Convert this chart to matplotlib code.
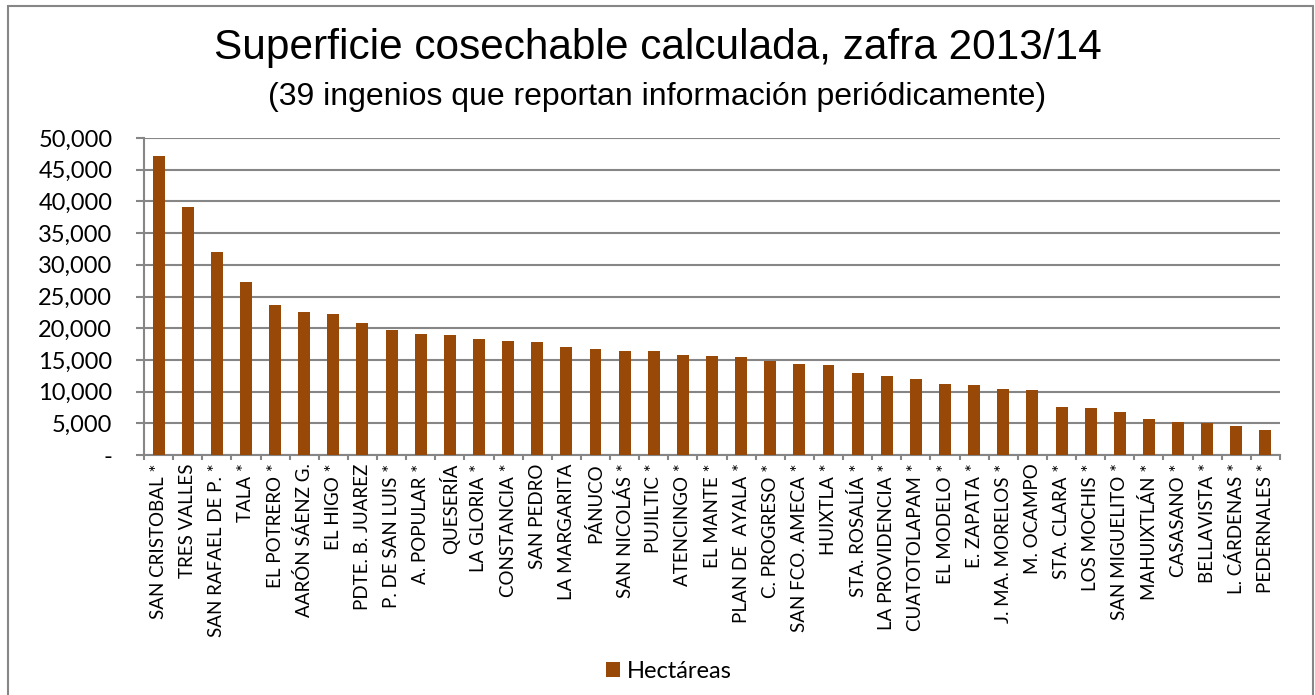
import matplotlib as mpl
import matplotlib.pyplot as plt
from matplotlib.patches import Rectangle
from matplotlib.ticker import FuncFormatter, FixedLocator

ingenios = ['SAN CRISTOBAL *', 'TRES VALLES', 'SAN RAFAEL DE P. *', 'TALA *',
            'EL POTRERO *', 'AARÓN SÁENZ G.', 'EL HIGO *', 'PDTE. B. JUAREZ',
            'P. DE SAN LUIS *', 'A. POPULAR *', 'QUESERÍA', 'LA GLORIA *',
            'CONSTANCIA *', 'SAN PEDRO', 'LA MARGARITA', 'PÁNUCO',
            'SAN NICOLÁS *', 'PUJILTIC *', 'ATENCINGO *', 'EL MANTE *',
            'PLAN DE  AYALA *', 'C. PROGRESO *', 'SAN FCO. AMECA *', 'HUIXTLA *',
            'STA. ROSALÍA *', 'LA PROVIDENCIA *', 'CUATOTOLAPAM *', 'EL MODELO *',
            'E. ZAPATA *', 'J. MA. MORELOS *', 'M. OCAMPO', 'STA. CLARA *',
            'LOS MOCHIS *', 'SAN MIGUELITO *', 'MAHUIXTLÁN *', 'CASASANO *',
            'BELLAVISTA *', 'L. CÁRDENAS *', 'PEDERNALES *']
hectareas = [47100, 39050, 32050, 27300, 23600, 22550, 22300, 20750,
             19650, 19050, 18850, 18300, 17950, 17800, 17100, 16750,
             16400, 16350, 15850, 15600, 15500, 14850, 14300, 14150,
             12950, 12450, 12000, 11250, 11100, 10400, 10250, 7600,
             7450, 6850, 5750, 5250, 5050, 4650, 3900]

bar_color = '#984807'
grid_color = '#868686'

fig = plt.figure(figsize=(13.15, 6.95), dpi=100)
fig.patch.set_facecolor('white')
fig.patches.append(Rectangle((8 / 1315, -0.01), 1306 / 1315 - 0.0005, 1 - 6 / 695 + 0.01,
                             transform=fig.transFigure, fill=False,
                             edgecolor=grid_color, linewidth=1.5))

ax = fig.add_axes([144 / 1315, 1 - 455 / 695, (1280 - 144) / 1315, (455 - 138) / 695])
x = range(len(ingenios))
ax.bar(x, hectareas, width=0.41, color=bar_color, zorder=3, label='Hectáreas')

ax.set_xlim(-0.5, len(ingenios) - 0.5)
ax.set_ylim(0, 50000)
ax.set_yticks(range(0, 50001, 5000))
ax.yaxis.set_major_formatter(FuncFormatter(lambda v, p: '-' if v == 0 else f'{int(v):,}'))
ax.yaxis.grid(True, color=grid_color, linewidth=1.5, zorder=0)
ax.set_xticks(list(x))
ax.set_xticklabels(ingenios, rotation=90, fontsize=13.5, family='Lato')
ax.xaxis.set_minor_locator(FixedLocator([i - 0.5 for i in range(len(ingenios) + 1)]))
ax.tick_params(axis='x', which='major', length=0, pad=6)
ax.tick_params(axis='x', which='minor', length=3.6, color=grid_color, width=1.5)
ax.tick_params(axis='y', length=5.8, color=grid_color, width=1.5, labelsize=17, pad=17)
for lab in ax.get_yticklabels():
    lab.set_family('Lato')

for s in ['top', 'right']:
    ax.spines[s].set_visible(False)
for s in ['left', 'bottom']:
    ax.spines[s].set_color(grid_color)
    ax.spines[s].set_linewidth(1.5)

fig.text(0.5, 1 - 48 / 695, 'Superficie cosechable calculada, zafra 2013/14',
         ha='center', va='center', fontsize=30.5, family='Liberation Sans')
fig.text(0.5, 1 - 97 / 695, '(39 ingenios que reportan información periódicamente)',
         ha='center', va='center', fontsize=23, family='Liberation Sans')

fig.legend(loc='center', bbox_to_anchor=(669 / 1315, 1 - 671 / 695), frameon=False,
           prop={'family': 'Lato', 'size': 17}, handlelength=0.6, handleheight=0.6,
           handletextpad=0.3)

fig.savefig('out.png', dpi=100)
